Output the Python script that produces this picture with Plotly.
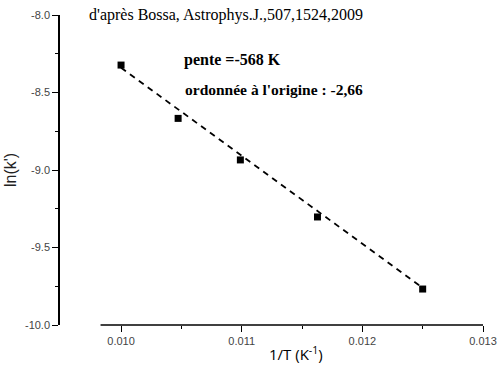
import plotly.graph_objects as go

# Data
inv_T = [0.01000, 0.010473, 0.010989, 0.011628, 0.012500]
ln_k = [-8.323, -8.667, -8.935, -9.303, -9.768]
slope = -568.0
intercept = -2.66
fit_x = [0.0100, 0.0125]
fit_y = [intercept + slope * v for v in fit_x]

x_tickvals = [0.010, 0.011, 0.012, 0.013]
x_ticktext = ["0.010", "0.011", "0.012", "0.013"]
y_tickvals = [-8.0, -8.5, -9.0, -9.5, -10.0]
y_ticktext = ["-8.0", "-8.5", "-9.0", "-9.5", "-10.0"]

fig = go.Figure()
fig.add_trace(go.Scatter(x=fit_x, y=fit_y, mode="lines",
                         line=dict(color="black", width=1.8, dash="6px,5px"),
                         showlegend=False, hoverinfo="skip"))
fig.add_trace(go.Scatter(x=inv_T, y=ln_k, mode="markers",
                         marker=dict(symbol="square", size=7, color="black"),
                         showlegend=False))

# detached x-axis line
fig.add_shape(type="line", xref="x", yref="paper", x0=0.00983, x1=0.013, y0=0, y1=0,
              line=dict(color="black", width=1.5))

tick_font = dict(family="Liberation Sans, Arial, sans-serif", size=11, color="#444")
serif = "Liberation Serif, Times New Roman, serif"
fig.update_layout(
    width=504, height=368,
    margin=dict(l=60, r=21, t=15, b=43, autoexpand=False),
    paper_bgcolor="white", plot_bgcolor="white",
    xaxis=dict(range=[0.009494, 0.013], showline=False, showgrid=False, zeroline=False,
               automargin=False,
               tickvals=x_tickvals, ticktext=x_ticktext, ticks="outside", ticklen=6,
               tickwidth=1.2, tickcolor="black", tickfont=tick_font,
               minor=dict(tickvals=[0.0105, 0.0115, 0.0125], ticks="outside", ticklen=3, tickcolor="black")),
    yaxis=dict(range=[-10.0, -8.0], showline=True, linecolor="black", linewidth=1.5,
               automargin=False,
               showgrid=False, zeroline=False,
               tickvals=y_tickvals, ticktext=y_ticktext, ticks="outside", ticklen=6,
               tickwidth=1.2, tickcolor="black", tickfont=tick_font,
               minor=dict(tickvals=[-8.25, -8.75, -9.25, -9.75], ticks="outside", ticklen=3, tickcolor="black"),
               title=dict(text="ln(k')", font=dict(family="Liberation Sans, Arial, sans-serif", size=16, color="#222"),
                          standoff=4)),
    annotations=[
        dict(text="1/T (K<sup>-1</sup>)", xref="paper", yref="paper",
             x=(296 - 60) / 423, y=-28 / 310, xanchor="center", yanchor="middle", showarrow=False,
             font=dict(family="Open Sans, sans-serif", size=15, color="black")),
        dict(text="d'après Bossa, Astrophys.J.,507,1524,2009", xref="paper", yref="paper",
             x=27/423, y=1.0, xanchor="left", yanchor="middle", showarrow=False,
             font=dict(family=serif, size=16, color="black")),
        dict(text="<b>pente =-568 K</b>", xref="paper", yref="paper",
             x=122/423, y=1 - 45/310, xanchor="left", yanchor="middle", showarrow=False,
             font=dict(family=serif, size=16, color="black")),
        dict(text="<b>ordonnée à l'origine : -2,66</b>", xref="paper", yref="paper",
             x=123/423, y=1 - 74/310, xanchor="left", yanchor="middle", showarrow=False,
             font=dict(family=serif, size=15.5, color="black")),
    ],
)

fig.write_html("out.html", config={"displayModeBar": False},
               post_script="document.body.style.margin='0px';")
